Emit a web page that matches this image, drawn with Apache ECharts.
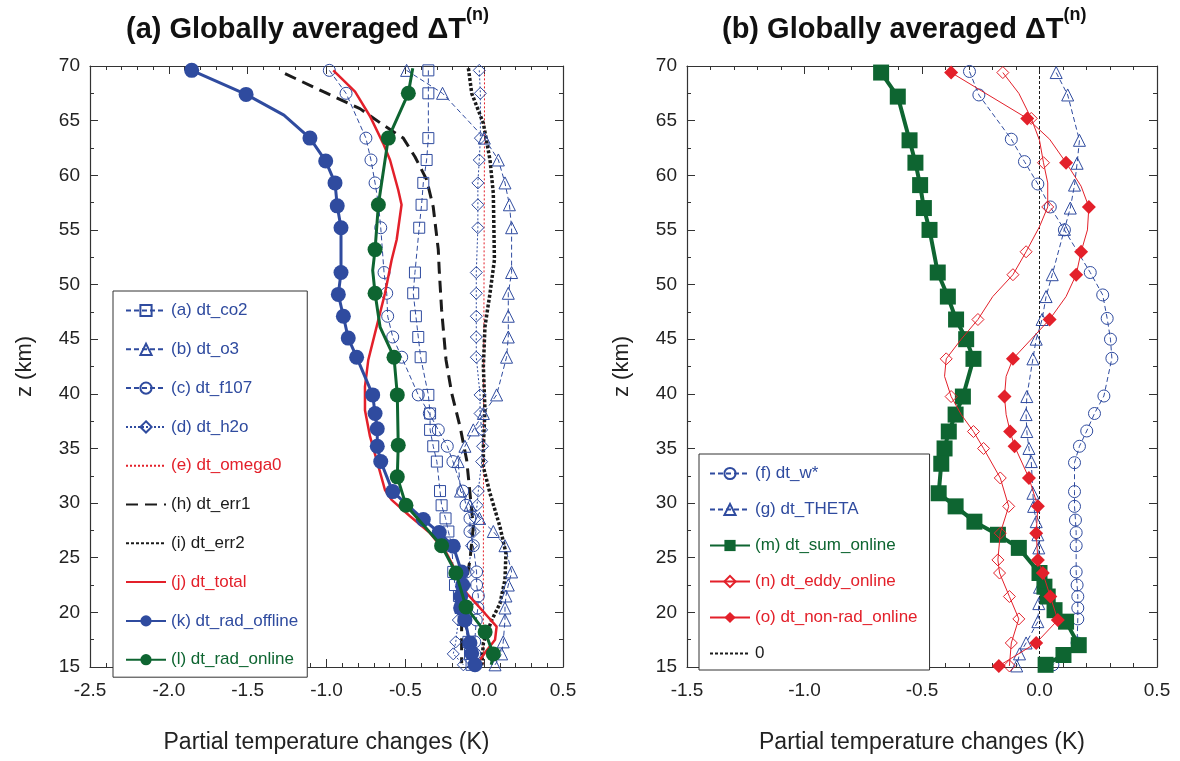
<!DOCTYPE html>
<html>
<head>
<meta charset="utf-8">
<script src="https://cdn.jsdelivr.net/npm/echarts@6/dist/echarts.min.js"></script>
<style>
  html, body { margin: 0; padding: 0; background: #ffffff; }
  #chart { width: 1180px; height: 761px; }
</style>
</head>
<body>
<div id="chart"></div>
<script>
// Vertical profiles of globally averaged partial temperature changes.
// Every profile is a list of [temperature change (K), altitude z (km)].
// "Marks" carry a symbol, "bends" are extra vertices of the same curve.

// ---------- panel (a) ----------
const co2 = [[-0.354,69.6],[-0.354,67.5],[-0.354,63.4],[-0.365,61.4],[-0.386,59.3],[-0.397,57.3],[-0.412,55.2],
  [-0.439,51.1],[-0.45,49.2],[-0.433,47.1],[-0.418,45.2],[-0.403,43.35],[-0.354,39.9],[-0.343,38.2],[-0.343,36.7],
  [-0.323,35.2],[-0.30,33.8],[-0.28,31.1],[-0.27,29.8],[-0.245,28.6],[-0.227,27.4],[-0.205,26.1],[-0.196,23.7],
  [-0.185,22.5],[-0.16,21.5],[-0.15,20.4],[-0.13,19.3],[-0.10,17.3],[-0.09,16.2],[-0.08,15.2]];
const o3 = [[-0.492,69.6],[-0.264,67.5],[0.001,63.4],[0.09,61.4],[0.132,59.3],[0.16,57.3],[0.174,55.2],
  [0.174,51.1],[0.153,49.2],[0.153,47.1],[0.153,45.2],[0.142,43.35],[0.079,39.9],[-0.005,38.2],[-0.069,36.7],
  [-0.122,35.2],[-0.165,33.8],[-0.15,31.1],[-0.09,29.8],[-0.03,28.6],[0.058,27.4],[0.132,26.1],[0.174,23.7],
  [0.153,22.5],[0.138,21.5],[0.132,20.4],[0.132,19.3],[0.121,17.3],[0.111,16.2],[0.069,15.2]];
const f107 = [[-0.982,69.6],[-0.876,67.5],[-0.75,63.4],[-0.718,61.4],[-0.692,59.3],[-0.67,57.3],[-0.656,55.2],
  [-0.635,51.1],[-0.618,49.2],[-0.612,47.1],[-0.58,45.2],[-0.523,43.35],[-0.418,39.9],[-0.348,38.2],[-0.291,36.7],
  [-0.234,35.2],[-0.198,33.8],[-0.136,31.1],[-0.115,29.8],[-0.09,28.6],[-0.09,27.4],[-0.069,26.1],[-0.048,23.7],
  [-0.048,22.5],[-0.037,21.5],[-0.04,20.4],[-0.05,19.3],[-0.06,17.3],[-0.06,16.2],[-0.06,15.2]];
const h2o = [[-0.031,69.6],[-0.024,67.5],[-0.024,63.4],[-0.031,61.4],[-0.04,59.3],[-0.04,57.3],[-0.04,55.2],
  [-0.05,51.1],[-0.05,49.2],[-0.05,47.1],[-0.05,45.2],[-0.05,43.35],[-0.026,39.9],[-0.026,38.2],[-0.016,36.7],
  [-0.01,35.2],[-0.016,33.8],[-0.037,31.1],[-0.045,29.8],[-0.055,28.6],[-0.065,27.4],[-0.08,26.1],[-0.10,23.7],
  [-0.12,22.5],[-0.14,21.5],[-0.155,20.4],[-0.164,19.3],[-0.18,17.3],[-0.196,16.2],[-0.132,15.2]];
const omega0 = [[0.002,69.6],[0.002,63.4],[0.0,55.2],[-0.002,45.2],[-0.004,35.2],[-0.005,25.0],[-0.005,15.2]];
const err1 = [[-1.263,69.3],[-1.02,67.65],[-0.788,66.1],[-0.64,64.6],[-0.513,63.4],[-0.439,61.7],[-0.365,59.6],
  [-0.323,57.1],[-0.291,53.2],[-0.285,51.3],[-0.27,47.7],[-0.242,43.1],[-0.206,40.05],[-0.153,37.0],[-0.111,33.95],
  [-0.069,27.85],[-0.09,24.8],[-0.132,21.15],[-0.143,18.7],[-0.143,15.35]];
const err2 = [[-0.1,69.8],[-0.079,67.5],[-0.005,64.75],[0.037,61.4],[0.058,58.35],[0.065,52.25],[0.037,49.2],
  [0.005,46.15],[-0.005,42.5],[0.005,38.5],[-0.005,35.2],[-0.005,33.3],[0.037,30.9],[0.1,27.85],[0.138,25.4],
  [0.132,23.0],[0.1,20.8],[0.048,19.3],[-0.005,17.2],[-0.016,15.1]];
const total = [[-0.957,69.6],[-0.819,67.65],[-0.724,65.4],[-0.64,62.9],[-0.597,61.4],[-0.545,58.65],[-0.524,57.3],
  [-0.555,54.1],[-0.587,52.25],[-0.629,49.2],[-0.682,46.15],[-0.735,43.1],[-0.756,40.65],[-0.756,38.5],[-0.724,36.1],
  [-0.682,33.95],[-0.629,31.2],[-0.587,30.3],[-0.47,28.8],[-0.343,27.25],[-0.238,25.4],[-0.174,23.6],[-0.111,21.75],
  [0.005,19.9],[0.079,18.7],[0.069,17.5],[0.005,16.3],[-0.026,15.65]];
const radOffline = [[-1.855,69.6],[-1.51,67.4],[-1.105,63.4],[-1.005,61.3],[-0.946,59.3],[-0.932,57.2],[-0.908,55.2],
  [-0.908,51.1],[-0.925,49.1],[-0.893,47.1],[-0.862,45.1],[-0.809,43.35],[-0.707,39.9],[-0.692,38.2],[-0.678,36.8],
  [-0.678,35.2],[-0.656,33.8],[-0.58,31.05],[-0.386,28.5],[-0.285,27.3],[-0.196,26.05],[-0.143,23.7],[-0.136,22.5],
  [-0.149,21.45],[-0.149,20.4],[-0.122,19.3],[-0.09,17.2],[-0.079,16.25],[-0.058,15.2]];
const radOfflineBends = [[-1.27,65.5]];
const radOnline = [[-0.481,67.5],[-0.608,63.4],[-0.671,57.3],[-0.692,53.2],[-0.692,49.2],[-0.572,43.35],[-0.551,39.9],
  [-0.545,35.3],[-0.551,32.4],[-0.496,29.8],[-0.27,26.1],[-0.179,23.6],[-0.115,20.5],[0.006,18.2],[0.058,16.2]];
const radOnlineBends = [[-0.453,69.8],[-0.707,51.3],[-0.66,46.1],[0.045,15.2]];

// ---------- panel (b) ----------
const wStar = [[-0.298,69.5],[-0.258,67.35],[-0.12,63.3],[-0.064,61.25],[-0.007,59.2],[0.046,57.1],[0.106,55.0],
  [0.216,51.1],[0.269,49.05],[0.288,46.9],[0.302,45.0],[0.308,43.25],[0.274,39.8],[0.234,38.2],[0.201,36.6],
  [0.17,35.2],[0.149,33.7],[0.149,31.05],[0.149,29.7],[0.153,28.45],[0.156,27.3],[0.156,26.1],[0.156,23.7],
  [0.16,22.5],[0.163,21.45],[0.163,20.4],[0.163,19.4],[0.16,17.2],[0.10,16.2],[0.057,15.2]];
const theta = [[0.071,69.4],[0.12,67.35],[0.17,63.2],[0.16,61.1],[0.149,59.1],[0.131,57.0],[0.106,55.05],
  [0.054,50.9],[0.028,48.9],[0.011,46.8],[-0.014,45.0],[-0.028,43.2],[-0.054,39.75],[-0.057,38.1],[-0.054,36.55],
  [-0.045,35.0],[-0.035,33.8],[-0.028,30.9],[-0.025,29.7],[-0.014,28.3],[-0.007,27.1],[-0.003,25.9],[0.0,23.6],
  [0.0,22.3],[-0.003,20.8],[-0.007,19.15],[-0.057,17.2],[-0.085,16.2],[-0.097,15.1]];
const sumOnline = [[-0.674,69.4],[-0.603,67.2],[-0.553,63.2],[-0.528,61.15],[-0.508,59.1],[-0.492,57.0],[-0.468,55.0],
  [-0.433,51.1],[-0.39,48.9],[-0.355,46.8],[-0.312,45.0],[-0.281,43.2],[-0.326,39.75],[-0.357,38.1],[-0.386,36.55],
  [-0.404,35.0],[-0.418,33.6],[-0.429,30.9],[-0.357,29.7],[-0.277,28.3],[-0.177,27.1],[-0.088,25.9],[0.0,23.6],
  [0.021,22.35],[0.035,21.45],[0.064,20.2],[0.113,19.15],[0.167,17.0],[0.102,16.1],[0.026,15.2]];
const eddy = [[-0.156,69.4],[-0.035,65.2],[0.017,61.15],[0.035,57.1],[-0.057,53.0],[-0.113,50.9],[-0.262,46.8],
  [-0.397,43.2],[-0.376,39.75],[-0.281,36.55],[-0.238,35.0],[-0.167,32.3],[-0.131,29.7],[-0.167,27.25],[-0.177,24.8],
  [-0.17,23.6],[-0.128,21.45],[-0.088,19.4],[-0.12,17.2],[-0.128,15.1]];
const eddyBends = [[-0.088,67.5],[0.0,63.2],[0.035,59.3],[0.0,55.3],[-0.199,48.9],[-0.333,45.0],[-0.404,41.6],[-0.333,38.1]];
const nonRad = [[-0.376,69.4],[-0.052,65.2],[0.113,61.15],[0.21,57.1],[0.177,53.0],[0.156,50.9],[0.043,46.8],
  [-0.113,43.2],[-0.149,39.75],[-0.125,36.55],[-0.106,35.2],[-0.045,32.3],[-0.007,29.7],[-0.014,27.25],[-0.007,24.8],
  [0.014,23.6],[0.046,21.45],[0.078,19.3],[-0.014,17.2],[-0.173,15.1]];
const nonRadBends = [[0.043,63.3],[0.177,59.0],[0.204,55.0],[0.113,48.9],[-0.035,45.0],[-0.142,41.6],[-0.142,38.1]];
const zeroLine = [[0,15],[0,70]];

// axis extents and labels
const xRangeA = [-2.5, 0.5];
const xRangeB = [-1.5, 0.5];
const zRange = [15, 70];
const xTitle = 'Partial temperature changes (K)';
const zTitle = 'z (km)';
const legendA = ['(a) dt_co2','(b) dt_o3','(c) dt_f107','(d) dt_h2o','(e) dt_omega0','(h) dt_err1','(i) dt_err2',
  '(j) dt_total','(k) dt_rad_offline','(l) dt_rad_online'];
const legendB = ['(f) dt_w*','(g) dt_THETA','(m) dt_sum_online','(n) dt_eddy_online','(o) dt_non-rad_online','0'];

const FONT = '"Liberation Sans", Arial, Helvetica, sans-serif';
const BLUE = '#2f4b9f';
const GREEN = '#0e6531';
const RED = '#e3202a';
const BLACK = '#1b1b1b';
const AXIS = '#333333';
const NONE = 'rgba(0,0,0,0)';

function points(marks, bends) {
  return marks.map(p => ({ value: p }))
    .concat((bends || []).map(p => ({ value: p, symbol: 'none' })))
    .sort((a, b) => b.value[1] - a.value[1]);
}

function profile(name, grid, marks, bends, look) {
  return {
    type: 'line', name: name, xAxisIndex: grid * 2, yAxisIndex: grid * 2,
    data: points(marks, bends),
    symbol: look.symbol || 'none', symbolSize: look.size || 12, showAllSymbol: true,
    lineStyle: { color: look.color, width: look.width || 1, type: look.dash || 'solid' },
    itemStyle: { color: look.fill || look.color, borderColor: look.color, borderWidth: look.border || 0 },
    z: look.z || 2, animation: false, silent: true, clip: false,
    emphasis: { disabled: true }
  };
}

function xAxes(grid, range) {
  const base = {
    type: 'value', gridIndex: grid, min: range[0], max: range[1], interval: 0.5,
    axisLine: { show: true, onZero: false, lineStyle: { color: AXIS, width: 1.2 } },
    axisTick: { show: true, inside: true, length: 8, lineStyle: { color: AXIS, width: 1 } },
    minorTick: { show: true, splitNumber: 5, length: 4, lineStyle: { color: AXIS, width: 1 } },
    splitLine: { show: false }, minorSplitLine: { show: false }
  };
  return [
    Object.assign({}, base, {
      position: 'bottom',
      axisLabel: { show: true, margin: 14, fontSize: 19, color: '#222', fontFamily: FONT,
        showMinLabel: true, showMaxLabel: true, formatter: v => v.toFixed(1) },
      name: xTitle, nameLocation: 'middle', nameGap: 64,
      nameTextStyle: { fontSize: 23, color: '#222', fontFamily: FONT }
    }),
    Object.assign({}, base, { position: 'top', axisLabel: { show: false } })
  ];
}

function yAxes(grid) {
  const base = {
    type: 'value', gridIndex: grid, min: zRange[0], max: zRange[1], interval: 5,
    axisLine: { show: true, onZero: false, lineStyle: { color: AXIS, width: 1.2 } },
    axisTick: { show: true, inside: true, length: 8, lineStyle: { color: AXIS, width: 1 } },
    minorTick: { show: true, splitNumber: 2, length: 4, lineStyle: { color: AXIS, width: 1 } },
    splitLine: { show: false }, minorSplitLine: { show: false }
  };
  return [
    Object.assign({}, base, {
      position: 'left',
      axisLabel: { show: true, margin: 10, fontSize: 19, color: '#222', fontFamily: FONT,
        showMinLabel: true, showMaxLabel: true },
      name: zTitle, nameLocation: 'middle', nameGap: 54, nameRotate: 90,
      nameTextStyle: { fontSize: 22, color: '#222', fontFamily: FONT }
    }),
    Object.assign({}, base, { position: 'right', axisLabel: { show: false } })
  ];
}

function titleText(tag) {
  return {
    text: '{t|' + tag + ' Globally averaged ΔT}{s|(n)}',
    textStyle: {
      rich: {
        t: { fontSize: 29, fontWeight: 'bold', color: '#111', fontFamily: FONT, lineHeight: 38, verticalAlign: 'bottom' },
        s: { fontSize: 18, fontWeight: 'bold', color: '#111', fontFamily: FONT, lineHeight: 18, verticalAlign: 'top' }
      }
    }
  };
}

const colorsA = [BLUE, BLUE, BLUE, BLUE, RED, BLACK, BLACK, RED, BLUE, GREEN];
const colorsB = [BLUE, BLUE, GREEN, RED, RED, BLACK];

function legend(names, colors, lineOnly, left, top, gap, pad) {
  return {
    show: true, orient: 'vertical', left: left, top: top, padding: pad,
    backgroundColor: '#fff', borderColor: '#333', borderWidth: 1,
    itemWidth: 40, itemHeight: 14, itemGap: gap, selectedMode: false,
    textStyle: { fontSize: 17, fontFamily: FONT },
    data: names.map((n, i) => {
      const item = { name: n, textStyle: { color: colors[i] } };
      if (lineOnly.indexOf(n) >= 0) item.itemStyle = { opacity: 0 };
      return item;
    })
  };
}

const series = [
  profile(legendA[0], 0, co2, null, { color: BLUE, dash: [5, 3], symbol: 'rect', size: 11, fill: NONE, border: 1 }),
  profile(legendA[1], 0, o3, null, { color: BLUE, dash: [5, 3], symbol: 'triangle', size: 12, fill: NONE, border: 1 }),
  profile(legendA[2], 0, f107, null, { color: BLUE, dash: [5, 3], symbol: 'circle', size: 12, fill: NONE, border: 1 }),
  profile(legendA[3], 0, h2o, null, { color: BLUE, dash: [2, 2], symbol: 'diamond', size: 12, fill: NONE, border: 1 }),
  profile(legendA[4], 0, omega0, null, { color: RED, dash: [2, 2], width: 1 }),
  profile(legendA[5], 0, err1, null, { color: BLACK, dash: [12, 7], width: 3 }),
  profile(legendA[6], 0, err2, null, { color: BLACK, dash: [3, 2], width: 3.5 }),
  profile(legendA[7], 0, total, null, { color: RED, width: 2.5, z: 3 }),
  profile(legendA[8], 0, radOffline, radOfflineBends, { color: BLUE, width: 3, symbol: 'circle', size: 15, z: 4 }),
  profile(legendA[9], 0, radOnline, radOnlineBends, { color: GREEN, width: 3, symbol: 'circle', size: 15, z: 5 }),

  profile(legendB[5], 1, zeroLine, null, { color: BLACK, dash: [3, 2], width: 1, z: 1 }),
  profile(legendB[0], 1, wStar, null, { color: BLUE, dash: [5, 3], symbol: 'circle', size: 12, fill: NONE, border: 1 }),
  profile(legendB[1], 1, theta, null, { color: BLUE, dash: [5, 3], symbol: 'triangle', size: 12, fill: NONE, border: 1 }),
  profile(legendB[2], 1, sumOnline, null, { color: GREEN, width: 4, symbol: 'rect', size: 16, z: 3 }),
  profile(legendB[3], 1, eddy, eddyBends, { color: RED, width: 1, symbol: 'diamond', size: 12, fill: NONE, border: 1, z: 4 }),
  profile(legendB[4], 1, nonRad, nonRadBends, { color: RED, width: 1, symbol: 'diamond', size: 14, z: 5 })
];

const lineOnlyNames = [legendA[4], legendA[5], legendA[6], legendA[7], legendB[5]];

const chart = echarts.init(document.getElementById('chart'), null, { renderer: 'canvas' });
chart.setOption({
  backgroundColor: '#ffffff',
  animation: false,
  title: [
    Object.assign({ left: 126, top: 6, padding: 0 }, titleText('(a)')),
    Object.assign({ left: 722, top: 6, padding: 0 }, titleText('(b)'))
  ],
  grid: [
    { left: 90, top: 66, width: 473, height: 601, containLabel: false },
    { left: 687, top: 66, width: 470, height: 601, containLabel: false }
  ],
  xAxis: xAxes(0, xRangeA).concat(xAxes(1, xRangeB)),
  yAxis: yAxes(0).concat(yAxes(1)),
  legend: [
    legend(legendA, colorsA, lineOnlyNames, 113, 291, 21.8, [11, 9, 9, 12]),
    legend(legendB, colorsB, lineOnlyNames, 699, 454, 19, [11, 12, 8, 10])
  ],
  series: series
});
</script>
</body>
</html>
